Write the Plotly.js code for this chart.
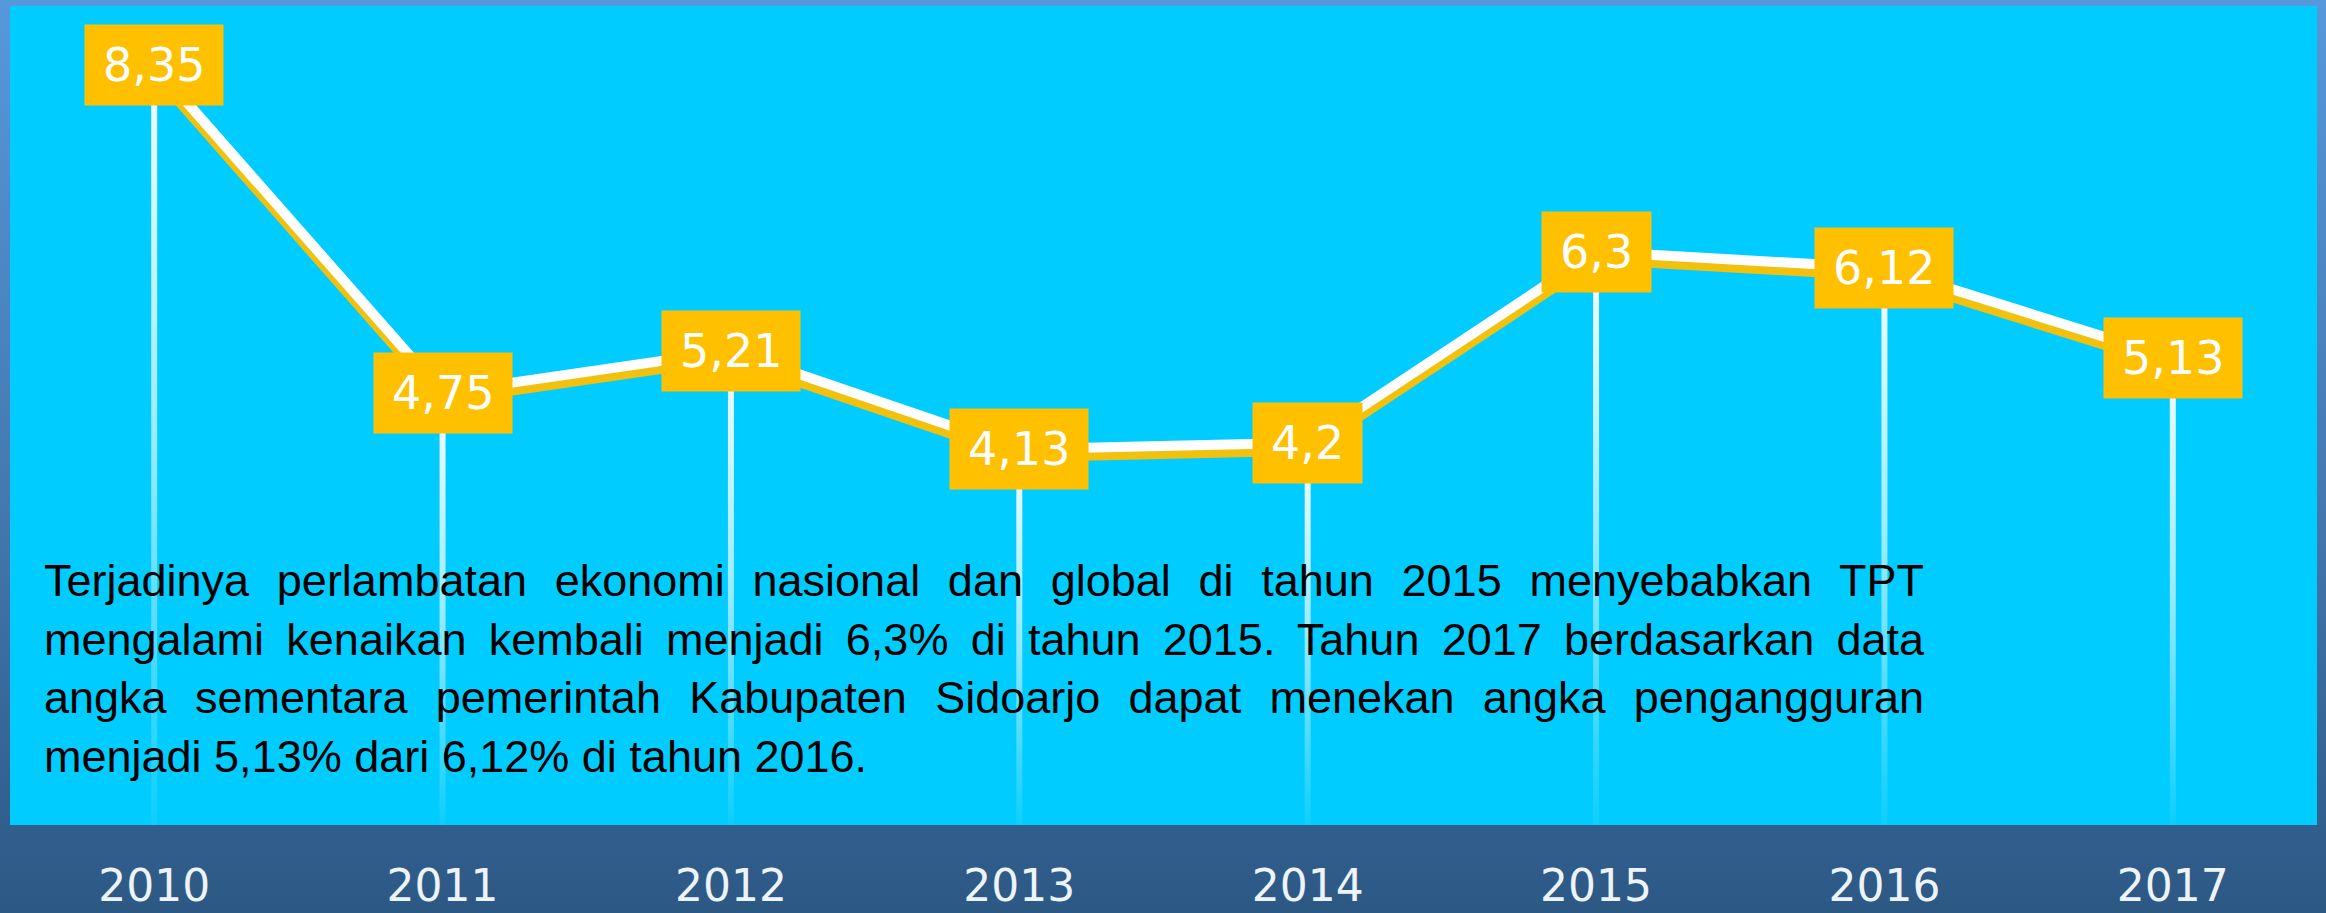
<!DOCTYPE html>
<html><head><meta charset="utf-8">
<script src="https://cdn.plot.ly/plotly-3.0.1.min.js"></script>
<style>
html,body{margin:0;padding:0;background:#2c5884;}
#chart{width:2326px;height:913px;background:linear-gradient(to bottom,#5698dc 0%,#4478b0 55%,#2c5884 100%);}
</style></head><body><div id="chart"></div>
<script>
// ---- data ----
const years = [2010, 2011, 2012, 2013, 2014, 2015, 2016, 2017];
const tpt = [8.35, 4.75, 5.21, 4.13, 4.2, 6.3, 6.12, 5.13];
const valueLabels = ['8,35', '4,75', '5,21', '4,13', '4,2', '6,3', '6,12', '5,13'];
const yearLabels = ['2010', '2011', '2012', '2013', '2014', '2015', '2016', '2017'];
const noteLines = [
  'Terjadinya perlambatan ekonomi nasional dan global di tahun 2015 menyebabkan TPT',
  'mengalami kenaikan kembali menjadi 6,3% di tahun 2015. Tahun 2017 berdasarkan data',
  'angka sementara pemerintah Kabupaten Sidoarjo dapat menekan angka pengangguran',
  'menjadi 5,13% dari 6,12% di tahun 2016.'
];

// ---- layout constants ----
const W = 2326, H = 913;
const M = {l: 10, r: 9, t: 6, b: 88, pad: 0};
const yMax = 9;
const plotW = W - M.l - M.r, plotH = H - M.t - M.b;
const xRange = [years[0] - 0.5, years[years.length - 1] + 0.5];
const pxPerX = plotW / (xRange[1] - xRange[0]);
const pxPerY = plotH / yMax;
const stemHalf = 3 / pxPerX;
const shadowShift = 8 / pxPerY;

const traces = [];
// fading vertical stems
years.forEach((yr, i) => {
  traces.push({
    type: 'scatter', mode: 'none', fill: 'toself',
    x: [yr - stemHalf, yr + stemHalf, yr + stemHalf, yr - stemHalf, yr - stemHalf],
    y: [0, 0, tpt[i], tpt[i], 0],
    fillcolor: 'rgba(255,255,255,0.6)',
    fillgradient: {type: 'vertical', colorscale: [[0, 'rgba(255,255,255,0.05)'], [0.5, 'rgba(255,255,255,0.6)'], [1, 'rgba(255,255,255,0.97)']]},
    hoverinfo: 'skip', showlegend: false
  });
});
// yellow shadow
traces.push({
  type: 'scatter', mode: 'lines', x: years, y: tpt.map(v => v - shadowShift),
  line: {color: 'rgba(255,192,0,0.95)', width: 10}, hoverinfo: 'skip', showlegend: false
});
// white main line
traces.push({
  type: 'scatter', mode: 'lines', x: years, y: tpt,
  line: {color: '#ffffff', width: 10}, hoverinfo: 'skip', showlegend: false
});

const annotations = years.map((yr, i) => ({
  x: yr, y: tpt[i], xref: 'x', yref: 'y', text: valueLabels[i], showarrow: false,
  xanchor: 'center', yanchor: 'middle',
  font: {family: 'DejaVu Sans', size: 46, color: '#ffffff'},
  bgcolor: '#FFC000', borderpad: 18, height: 44
}));
annotations.push({
  xref: 'paper', yref: 'paper', x: 32 / plotW, y: 0.332, xanchor: 'left', yanchor: 'top',
  align: 'left', showarrow: false, text: noteLines.join('<br>'),
  font: {family: 'Liberation Sans', size: 45, color: '#000000'}
});

const layout = {
  width: W, height: H, margin: M,
  paper_bgcolor: 'rgba(0,0,0,0)', plot_bgcolor: '#00CCFF',
  showlegend: false, hovermode: false,
  xaxis: {
    range: xRange, tickvals: years, ticktext: yearLabels,
    showgrid: false, zeroline: false, showline: false,
    ticks: 'outside', ticklen: 22, tickcolor: 'rgba(0,0,0,0)',
    tickfont: {family: 'DejaVu Sans', size: 44, color: '#eef3f8'}
  },
  yaxis: {range: [0, yMax], visible: false, showgrid: false, zeroline: false},
  annotations: annotations
};

Plotly.newPlot('chart', traces, layout, {staticPlot: true, displayModeBar: false}).then(gd => {
  // justify the first lines of the note paragraph
  const target = 1880;
  const anns = gd.querySelectorAll('.annotation-text');
  const note = anns[anns.length - 1];
  if (!note) return;
  const lines = note.querySelectorAll('tspan.line');
  lines.forEach((ts, k) => {
    if (k >= noteLines.length - 1) return;
    const len = ts.getComputedTextLength();
    const spaces = (noteLines[k].match(/ /g) || []).length;
    if (spaces > 0 && len < target) ts.style.wordSpacing = ((target - len) / spaces) + 'px';
  });
});
</script></body></html>
